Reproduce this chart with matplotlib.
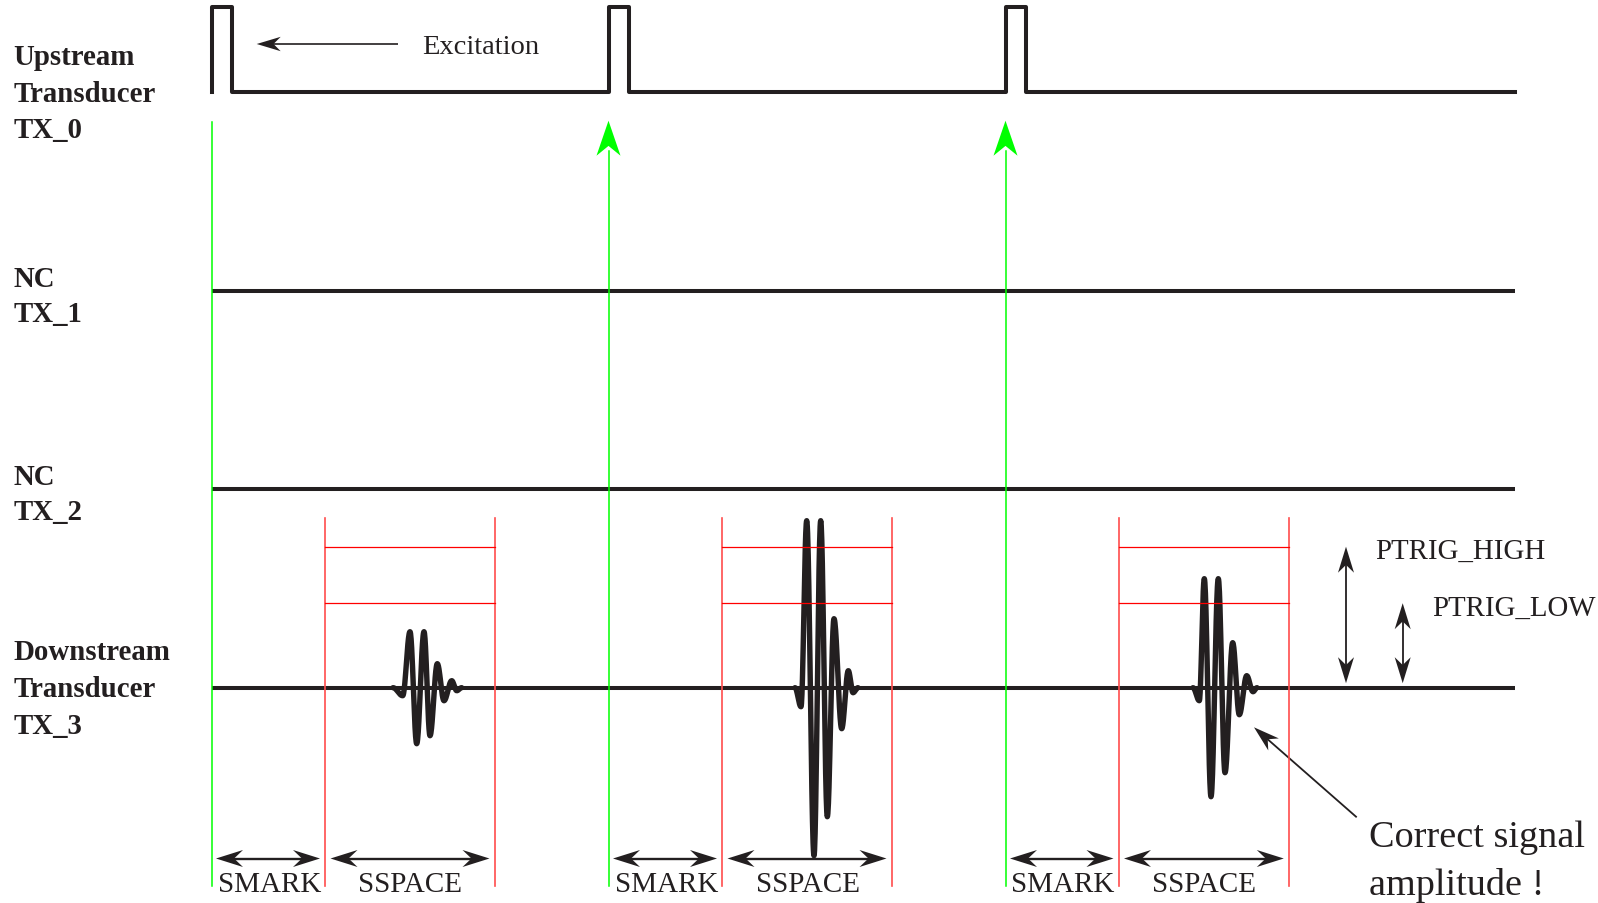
import numpy as np
import matplotlib
matplotlib.use("Agg")
import matplotlib.pyplot as plt

# ---------------- data (diagram units: x = time, y = level, 1 unit = 1 px) ----------------
row_names = ["TX_0", "TX_1", "TX_2", "TX_3"]
row_level = [93.3, 291.7, 490.0, 688.7]          # baseline level of each trace
row_labels = [["Upstream", "Transducer", "TX_0"],
              ["NC", "TX_1"],
              ["NC", "TX_2"],
              ["Downstream", "Transducer", "TX_3"]]
trace_start = 211.5
trace_end = 1515.0
excitation_t = [211.5, 608.5, 1005.5]             # excitation pulses on TX_0
pulse_width = 20.5
pulse_height = 85.0
red_left = [325.0, 722.0, 1118.5]                # SMARK end / SSPACE start
red_right = [495.0, 892.0, 1289.3]               # SSPACE end
ptrig_high = 141.0                                # thresholds above baseline
ptrig_low = 84.5

# received bursts on TX_3: extrema times and amplitudes (up = positive)
burst_t = [
    [393.0, 402.7, 410.0, 416.7, 424.0, 430.0, 437.3, 444.0, 451.7, 456.7, 461.7],
    [795.0, 801.0, 806.7, 814.0, 820.7, 827.3, 834.0, 841.7, 848.3, 853.0, 858.0],
    [1193.0, 1199.3, 1204.3, 1211.0, 1218.3, 1225.0, 1232.7, 1239.3, 1246.7, 1253.0, 1257.0],
]
burst_amp = [
    [0, -8, 56, -56, 56, -48, 24, -13, 7, -3, 0],
    [0, -19, 167, -168, 167, -129, 69, -41, 17, -5, 0],
    [0, -13, 109, -109, 109, -85, 45, -27, 12, -4, 0],
]

# ---------------- styling ----------------
INK = "#231f20"
GREEN = "#00ff00"
RED = "#ff0000"
RED_V = "#ff4d4d"
SERIF = ["Liberation Serif", "DejaVu Serif"]

fig = plt.figure(figsize=(15.98, 9.04), dpi=100)
ax = fig.add_axes([0, 0, 1, 1])
ax.set_xlim(0, 1598)
ax.set_ylim(904, 0)
ax.axis("off")


def head(tip, direction, L, W, color, notch=0.3, z=5):
    tip = np.asarray(tip, float)
    d = np.asarray(direction, float)
    d = d / np.hypot(*d)
    n = np.array([-d[1], d[0]])
    back = tip - d * L
    pts = np.array([tip, back + n * W, tip - d * L * (1 - notch), back - n * W])
    ax.fill(pts[:, 0], pts[:, 1], color=color, lw=0, zorder=z)


def arrow(p0, p1, L, W, lw, color=INK, both=False, z=5, notch=0.3):
    p0 = np.asarray(p0, float)
    p1 = np.asarray(p1, float)
    d = (p1 - p0) / np.hypot(*(p1 - p0))
    a = p0 + d * L * 0.6 if both else p0
    b = p1 - d * L * 0.6
    ax.plot([a[0], b[0]], [a[1], b[1]], color=color, lw=lw, zorder=z,
            solid_capstyle="butt")
    head(p1, d, L, W, color, z=z, notch=notch)
    if both:
        head(p0, -d, L, W, color, z=z, notch=notch)


# ---- TX_0 pulse train ----
base0 = row_level[0]
xs, ys = [], []
for e in excitation_t:
    xs += [e, e, e + pulse_width, e + pulse_width]
    ys += [base0, base0 - pulse_height, base0 - pulse_height, base0]
xs.append(trace_end)
ys.append(base0)
ax.plot(xs, ys, color=INK, lw=2.9, solid_joinstyle="round", zorder=3)

# ---- flat traces TX_1, TX_2, TX_3 baseline ----
for lvl in row_level[1:]:
    ax.plot([trace_start, trace_end], [lvl, lvl], color=INK, lw=2.9,
            solid_capstyle="butt", zorder=3)

# ---- bursts on TX_3 ----
base3 = row_level[3]
for bt, ba in zip(burst_t, burst_amp):
    cx, cy = [], []
    for i in range(len(bt) - 1):
        s = np.linspace(0, 1, 25)
        w = (1 - np.cos(np.pi * s)) / 2
        cx += list(bt[i] + (bt[i + 1] - bt[i]) * s)
        cy += list(base3 - (ba[i] + (ba[i + 1] - ba[i]) * w))
    ax.plot(cx, cy, color=INK, lw=3.9, solid_joinstyle="round",
            solid_capstyle="round", zorder=4)

# ---- green trigger lines ----
green_bottom = 886.7
for i, e in enumerate(excitation_t):
    if i == 0:
        ax.plot([e, e], [123, green_bottom], color=GREEN, lw=1.1, zorder=6)
    else:
        tip_y = 121.7
        ax.plot([e, e], [tip_y + 30, green_bottom], color=GREEN, lw=1.1, zorder=6)
        head((e, tip_y), (0, -1), 35, 12.0, GREEN, notch=0.28, z=6)

# ---- red windows ----
for l, r in zip(red_left, red_right):
    for x in (l, r):
        ax.plot([x, x], [519, green_bottom], color=RED_V, lw=1.2, zorder=6)
    for lvl in (ptrig_high, ptrig_low):
        ax.plot([l, r], [base3 - lvl, base3 - lvl], color=RED, lw=0.9, zorder=6)

# ---- SMARK / SSPACE dimension arrows ----
arrow_y = 859.5
label_y = 892.5
for e, l, r in zip(excitation_t, red_left, red_right):
    arrow((e + 4.5, arrow_y), (l - 5, arrow_y), 27, 8.5, 1.7, both=True, notch=0.33)
    arrow((l + 5.5, arrow_y), (r - 5.5, arrow_y), 27, 8.5, 1.7, both=True, notch=0.33)
    ax.text((e + l) / 2 + 1, label_y, "SMARK", family=SERIF, fontsize=21,
            color=INK, ha="center", va="baseline")
    ax.text((l + r) / 2 + 0.5, label_y, "SSPACE", family=SERIF, fontsize=21,
            color=INK, ha="center", va="baseline")

# ---- PTRIG arrows ----
arrow((1346, base3 - 4.5), (1346, base3 - ptrig_high), 26, 8.0, 1.3, both=True)
arrow((1402.7, base3 - 4.5), (1402.7, base3 - ptrig_low), 26, 8.0, 1.3, both=True)
ax.text(1375, 559.3, "PTRIG_HIGH", family=SERIF, fontsize=20.8, color=INK,
        ha="left", va="baseline")
ax.text(1431.7, 616, "PTRIG_LOW", family=SERIF, fontsize=20.8, color=INK,
        ha="left", va="baseline")

# ---- excitation annotation ----
arrow((398, 45), (256.7, 45), 24, 7.2, 1.2)
ax.text(421.7, 54, "Excitation", family=SERIF, fontsize=20.5, color=INK,
        ha="left", va="baseline")

# ---- correct amplitude annotation ----
arrow((1356.7, 818.3), (1254, 728.3), 26, 8.0, 1.3)
ax.text(1369, 847.3, "Correct signal", family=SERIF, fontsize=27.5, color=INK,
        ha="left", va="baseline")
ax.text(1369, 895, "amplitude !", family=SERIF, fontsize=27.5, color=INK,
        ha="left", va="baseline")

# ---- row labels ----
offsets3 = [-28.5, 8.8, 45.0]
offsets2 = [-4.6, 30.0]
for lvl, lines in zip(row_level, row_labels):
    offs = offsets3 if len(lines) == 3 else offsets2
    for txt, o in zip(lines, offs):
        ax.text(13.5, lvl + o, txt, family=SERIF, fontweight="bold",
                fontsize=20.8, color=INK, ha="left", va="baseline")

fig.savefig("out.png", dpi=100)
